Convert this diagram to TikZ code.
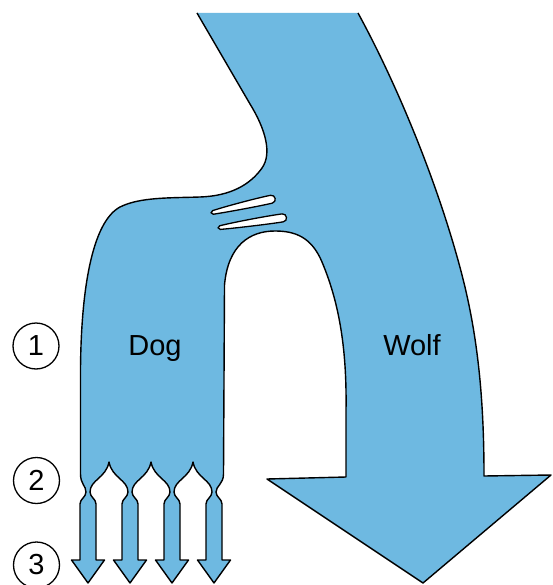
\documentclass[tikz,border=0pt]{standalone}
\usepackage{fontspec}
\setmainfont{Liberation Sans}
\definecolor{flowblue}{RGB}{110,185,225}
\newcommand\myslitpath[1]{(1,-1.8) .. controls (20,-3.5) and (#1-14,-4.4) .. (#1-4,-4.1) .. controls (#1+1,-3.9) and (#1+1,3.8) .. (#1-4,3.9) .. controls (#1-14,4.1) and (20,3.1) .. (1,1.9) .. controls (-1.5,1.5) and (-1.5,-1.5) .. (1,-1.8) -- cycle}
\begin{document}
\begin{tikzpicture}[x=1pt,y=-1pt,
  outline/.style={line width=1.4pt, draw=black, line join=round},
  slitstyle/.style={fill=white, draw=black, line width=1.3pt},
  numcircle/.style={circle, draw=black, line width=1.3pt, minimum size=46pt, inner sep=0pt, font=\fontsize{29}{30}\selectfont},
  lbl/.style={font=\fontsize{29}{30}\selectfont, inner sep=0pt, anchor=base}]
\useasboundingbox (0,0) rectangle (552,585);
\def\mainpath{(358,13)
  .. controls (400,90) and (440,190) .. (462,275)
  .. controls (478,337) and (484,400) .. (484,476)
  -- (551,475) -- (423,583) -- (267,479) -- (346,477)
  -- (346,410)
  .. controls (347,345) and (338,300) .. (322,262)
  .. controls (311.5,237) and (295,231) .. (275,231)
  .. controls (250,231) and (228,245) .. (224.5,285)
  -- (223.5,474)
  .. controls (223.5,484) and (216,486) .. (216,492)
  .. controls (216,497) and (222,499) .. (222,504) -- (222,560) -- (230.5,560) -- (214,583) -- (197.5,560) -- (206,560) -- (206,504)
  .. controls (206,499) and (212,497) .. (212,492)
  .. controls (212,480) and (196,478) .. (193,462)
  .. controls (190,478) and (174,480) .. (174,492)
  .. controls (174,497) and (180,499) .. (180,504) -- (180,560) -- (188.5,560) -- (172,583) -- (155.5,560) -- (164,560) -- (164,504)
  .. controls (164,499) and (170,497) .. (170,492)
  .. controls (170,480) and (154,478) .. (151,462)
  .. controls (148,478) and (132,480) .. (132,492)
  .. controls (132,497) and (138,499) .. (138,504) -- (138,560) -- (146.5,560) -- (130,583) -- (113.5,560) -- (122,560) -- (122,504)
  .. controls (122,499) and (128,497) .. (128,492)
  .. controls (128,480) and (112,478) .. (109,462)
  .. controls (106,478) and (90,480) .. (90,492)
  .. controls (90,497) and (96,499) .. (96,504) -- (96,560) -- (104.5,560) -- (88,583) -- (71.5,560) -- (80,560) -- (80,504)
  .. controls (80,499) and (86,497) .. (86,492)
  .. controls (86,486) and (80.5,484) .. (80.5,474)
  -- (80.5,370)
  .. controls (81,290) and (92,222) .. (120,207)
  .. controls (140,197) and (170,198) .. (200,197)
  .. controls (230,196) and (250,185) .. (262,168)
  .. controls (272,154) and (266,130) .. (250,104)
  -- (197,13)}
% main body: wolf + dog (top edge is left unstroked, as cropped)
\fill[flowblue] \mainpath -- cycle;
\draw[outline] \mainpath;
% the two slits
\coordinate (s1a) at (212,212.6);
\coordinate (s2a) at (219,227.7);
\begin{scope}[shift={(s1a)}, x={(0.975pt,0.218pt)}, y={(0.218pt,-0.975pt)}]
  \path[slitstyle] \myslitpath{65};
\end{scope}
\begin{scope}[shift={(s2a)}, x={(0.988pt,0.151pt)}, y={(0.151pt,-0.988pt)}]
  \path[slitstyle] \myslitpath{68.5};
\end{scope}
% labels
\node[lbl] (dog) at (155,355) {Dog};
\node[lbl] (wolf) at (412,355) {Wolf};
\node[numcircle] (n1) at (36,346) {1};
\node[numcircle] (n2) at (36.5,480.5) {2};
\node[numcircle] (n3) at (36.5,565) {3};
\end{tikzpicture}
\end{document}
